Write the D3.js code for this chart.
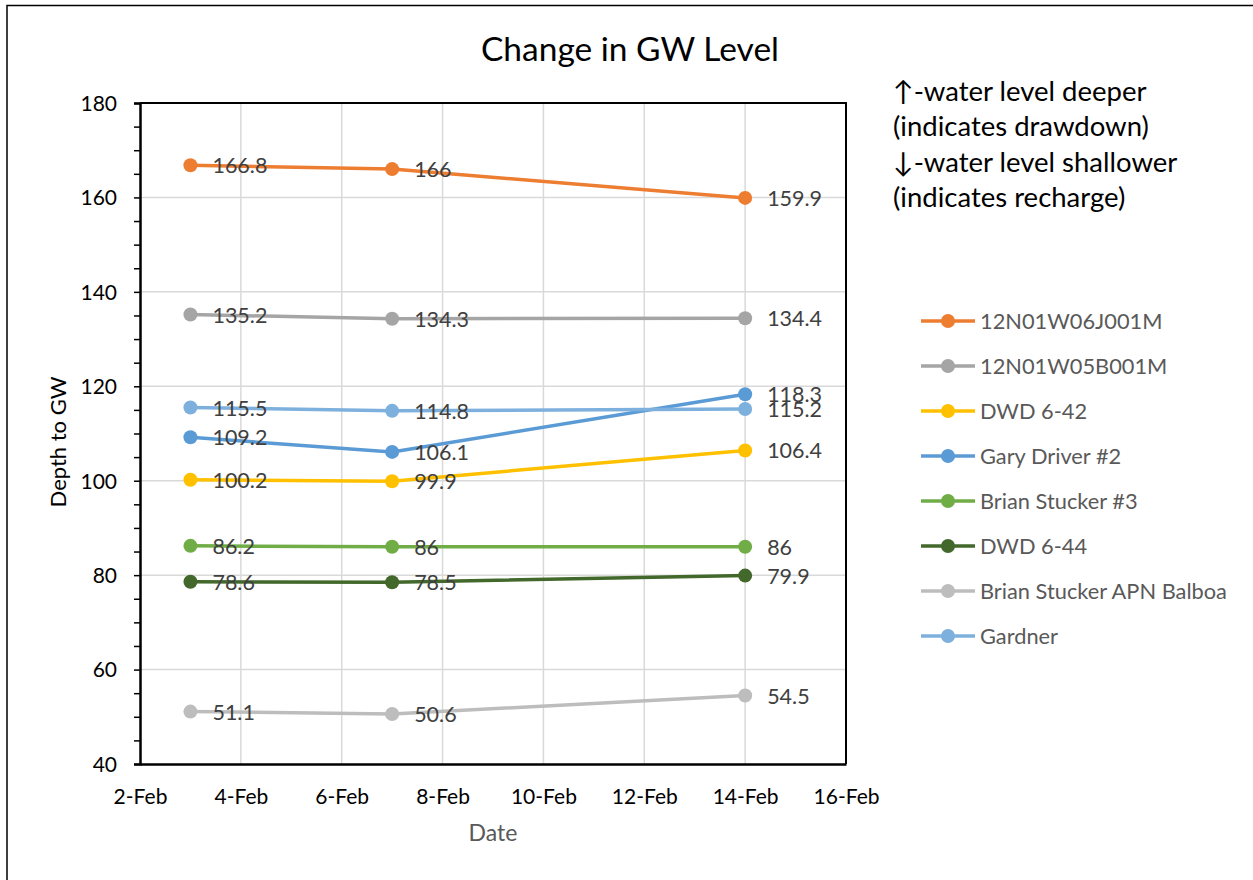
<!DOCTYPE html>
<html><head><meta charset="utf-8">
<script src="https://cdn.jsdelivr.net/npm/d3@7"></script>
<style>body{margin:0;background:#fff;} svg{display:block;}</style>
</head><body>
<svg id="c" width="1253" height="880"></svg>
<script>
const dates = ["2024-02-03", "2024-02-07", "2024-02-14"];
const xTickDates = ["2024-02-02","2024-02-04","2024-02-06","2024-02-08","2024-02-10","2024-02-12","2024-02-14","2024-02-16"];
const yTicks = [40, 60, 80, 100, 120, 140, 160, 180];
const seriesNames = ["12N01W06J001M","12N01W05B001M","DWD 6-42","Gary Driver #2","Brian Stucker #3","DWD 6-44","Brian Stucker APN Balboa","Gardner"];
const s1 = [166.8, 166, 159.9];
const s2 = [135.2, 134.3, 134.4];
const s3 = [100.2, 99.9, 106.4];
const s4 = [109.2, 106.1, 118.3];
const s5 = [86.2, 86, 86];
const s6 = [78.6, 78.5, 79.9];
const s7 = [51.1, 50.6, 54.5];
const s8 = [115.5, 114.8, 115.2];
const colors = ["#ED7D31","#A5A5A5","#FFC000","#5B9BD5","#70AD47","#43682B","#BDBDBD","#7EB0DE"];
const annotation = ["↑-water level deeper","(indicates drawdown)","↓-water level shallower","(indicates recharge)"];

const allValues = [s1,s2,s3,s4,s5,s6,s7,s8];
const parse = d3.utcParse("%Y-%m-%d");
const fmtX = d3.utcFormat("%-d-%b");
const svg = d3.select("#c");
const font = "Lato, 'Open Sans', sans-serif";

// outer border
svg.append("path").attr("d","M7,880 V5.5 H1253").attr("fill","none").attr("stroke","#000").attr("stroke-width",1.5);

const L=140, R=846, T=103, B=764;
const x = d3.scaleUtc().domain([parse(xTickDates[0]), parse(xTickDates[xTickDates.length-1])]).range([L,R]);
const y = d3.scaleLinear().domain([40,180]).range([B,T]);

// grid
const g = svg.append("g");
g.selectAll("line.v").data(xTickDates.slice(1,-1)).join("line")
  .attr("x1",d=>x(parse(d))).attr("x2",d=>x(parse(d))).attr("y1",T).attr("y2",B)
  .attr("stroke","#d9d9d9").attr("stroke-width",1.5);
g.selectAll("line.h").data(yTicks.slice(1,-1)).join("line")
  .attr("x1",L).attr("x2",R).attr("y1",d=>y(d)).attr("y2",d=>y(d))
  .attr("stroke","#d9d9d9").attr("stroke-width",1.5);

// frame top/right
svg.append("path").attr("d",`M${L},${T} H${R} V${B}`).attr("fill","none").attr("stroke","#000").attr("stroke-width",2);

// y axis
const yAxis = svg.append("g").attr("transform",`translate(${L},0)`)
  .call(d3.axisLeft(y).tickValues(d3.range(40,181,5)).tickSize(6).tickFormat(d=> yTicks.includes(d)? d : ""));
yAxis.select(".domain").attr("stroke","#000").attr("stroke-width",2.5);
yAxis.selectAll(".tick line").attr("stroke","#000").attr("stroke-width",1.5);
yAxis.selectAll(".tick text").attr("font-family",font).attr("font-size",21).attr("fill","#000").attr("x",-23).attr("dy","0.35em");

// x axis
const xAxis = svg.append("g").attr("transform",`translate(0,${B})`)
  .call(d3.axisBottom(x).tickValues(xTickDates.map(parse)).tickSize(0).tickFormat(fmtX));
xAxis.select(".domain").attr("stroke","#000").attr("stroke-width",2.5);
xAxis.selectAll(".tick text").attr("font-family",font).attr("font-size",21).attr("fill","#000").attr("dy","0").attr("y",40);

// lines
const line = d3.line().x((d,i)=>x(parse(dates[i]))).y(d=>y(d));
allValues.forEach((vals,k)=>{
  const sg = svg.append("g");
  sg.append("path").attr("d",line(vals)).attr("fill","none").attr("stroke",colors[k]).attr("stroke-width",3.5).attr("stroke-linejoin","round");
  sg.selectAll("circle").data(vals).join("circle")
    .attr("cx",(d,i)=>x(parse(dates[i]))).attr("cy",d=>y(d)).attr("r",7).attr("fill",colors[k]);
});
// labels
allValues.forEach((vals,k)=>{
  svg.append("g").selectAll("text").data(vals).join("text")
    .attr("x",(d,i)=>x(parse(dates[i]))+22).attr("y",d=>y(d)+8)
    .attr("font-family",font).attr("font-size",21.5).attr("fill","#404040").text(d=>d);
});

// titles
svg.append("text").attr("x",630).attr("y",61).attr("text-anchor","middle").attr("font-family",font).attr("font-size",33.5).attr("fill","#000").text("Change in GW Level");
svg.append("text").attr("transform","translate(66,442) rotate(-90)").attr("text-anchor","middle").attr("font-family",font).attr("font-size",22).attr("fill","#000").text("Depth to GW");
svg.append("text").attr("x",493).attr("y",841).attr("text-anchor","middle").attr("font-family",font).attr("font-size",23).attr("fill","#595959").text("Date");

// annotation
svg.append("g").selectAll("text").data(annotation).join("text")
  .attr("x",893).attr("y",(d,i)=>101+i*35.3).attr("font-family",font).attr("font-size",27.5).attr("fill","#000").text(d=>d);

// legend
const lg = svg.append("g").selectAll("g").data(seriesNames).join("g").attr("transform",(d,i)=>`translate(921,${321+i*45})`);
lg.append("line").attr("x1",0).attr("x2",54).attr("stroke",(d,i)=>colors[i]).attr("stroke-width",3.5);
lg.append("circle").attr("cx",27).attr("r",7).attr("fill",(d,i)=>colors[i]);
lg.append("text").attr("x",59).attr("y",7.5).attr("font-family",font).attr("font-size",21.8).attr("fill","#595959").text(d=>d);
</script>
</body></html>
